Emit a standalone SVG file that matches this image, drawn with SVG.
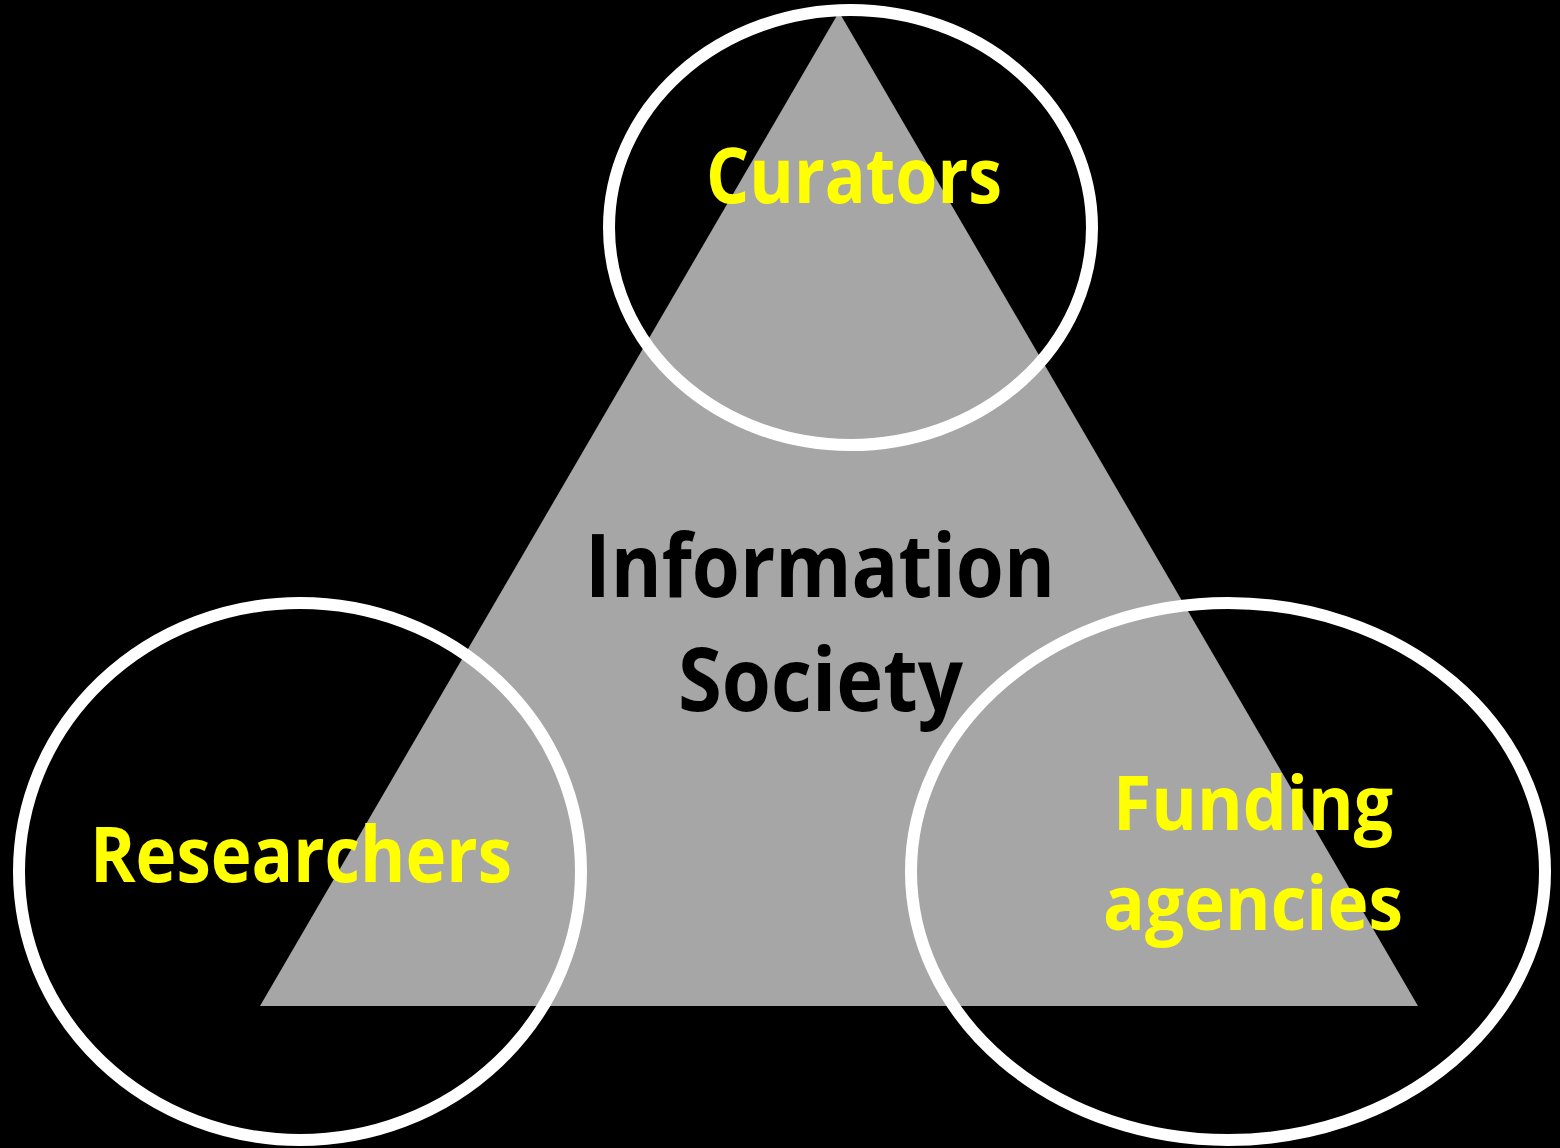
<svg xmlns="http://www.w3.org/2000/svg" width="1560" height="1148" viewBox="0 0 1560 1148">
<style>
.lbl{font-family:"Open Sans","Noto Sans","Liberation Sans",sans-serif;font-weight:700;text-anchor:middle}
.y{fill:#ffff00}
.k{fill:#000000}
.ring{fill:none;stroke:#ffffff;stroke-width:12}
</style>
<rect x="0" y="0" width="1560" height="1148" fill="#000000"/>
<g id="triangle">
<polygon points="839,12 260,1006 1418,1006" fill="#a6a6a6"/>
<text class="lbl k" x="820" y="597" font-size="87" textLength="470" lengthAdjust="spacingAndGlyphs">Information</text>
<text class="lbl k" x="820.5" y="711" font-size="87" textLength="285" lengthAdjust="spacingAndGlyphs">Society</text>
</g>
<g id="curators">
<ellipse class="ring" cx="850.5" cy="227.5" rx="241.5" ry="217.5"/>
<text class="lbl y" x="854" y="203" font-size="77" textLength="296" lengthAdjust="spacingAndGlyphs">Curators</text>
</g>
<g id="researchers">
<ellipse class="ring" cx="300" cy="871.5" rx="281" ry="268.5"/>
<text class="lbl y" x="301" y="882" font-size="77" textLength="422" lengthAdjust="spacingAndGlyphs">Researchers</text>
</g>
<g id="funding">
<ellipse class="ring" cx="1228" cy="871.5" rx="317" ry="268.5"/>
<text class="lbl y" x="1253" y="830" font-size="75" textLength="280" lengthAdjust="spacingAndGlyphs">Funding</text>
<text class="lbl y" x="1253" y="930" font-size="75" textLength="300" lengthAdjust="spacingAndGlyphs">agencies</text>
</g>
<g id="connectors"/>
</svg>
